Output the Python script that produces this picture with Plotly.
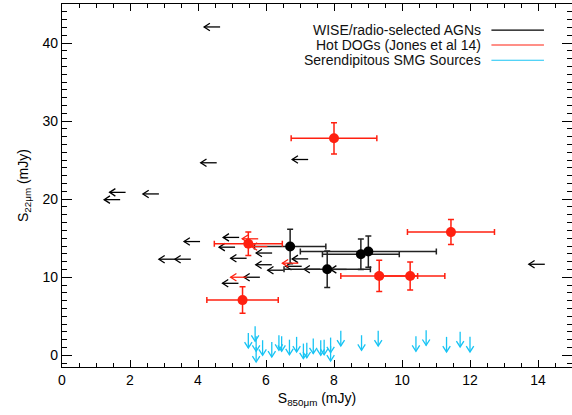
import plotly.graph_objects as go

# ---------------- data ----------------
# WISE/radio-selected AGNs, detections (S850, S22) with errors
agn_x = [6.71, 7.80, 8.79, 9.01]
agn_y = [13.93, 11.02, 12.95, 13.29]
agn_xerr = [1.05, 1.27, 1.13, 2.0]
agn_yerr = [2.2, 2.35, 1.95, 2.0]

# WISE/radio-selected AGNs, S850 upper limits
agn_lim_x = [4.65, 4.55, 7.24, 1.87, 2.85, 1.71, 4.06, 3.32, 3.79, 5.21, 5.09,
             5.43, 6.18, 6.17, 6.52, 5.82, 5.19, 7.24, 7.05, 7.59, 8.37, 14.2]
agn_lim_y = [42.06, 24.66, 25.08, 20.87, 20.67, 19.94, 14.57, 12.31, 12.31, 15.1, 13.85,
             12.43, 13.1, 11.6, 10.9, 10.0, 9.22, 12.35, 11.4, 11.02, 11.0, 11.66]

# Hot DOGs (Jones et al 14), detections
hd_x = [8.0, 11.44, 9.33, 10.24, 5.48, 5.31]
hd_y = [27.8, 15.78, 10.16, 10.16, 14.28, 7.07]
hd_xerr = [1.26, 1.28, 1.13, 1.02, 1.0, 1.05]
hd_yerr = [2.0, 1.6, 2.0, 1.8, 1.5, 1.7]

# Hot DOGs, S850 upper limits
hd_lim_x = [5.43, 6.95, 6.04, 5.77]
hd_lim_y = [10.0, 11.8, 13.93, 14.92]

# Serendipitous SMG sources, S22 upper limits
smg_x = [5.48, 5.68, 5.71, 5.71, 5.90, 6.17, 6.38, 6.46, 6.69, 6.90, 7.10, 7.20, 7.39,
         7.61, 7.71, 7.90, 7.90, 8.20, 8.81, 9.30, 10.41, 10.71, 11.31, 11.71, 12.0]
smg_y = [2.87, 3.73, 2.44, 1.07, 1.93, 1.71, 2.57, 2.44, 2.0, 2.36, 1.5, 1.6, 2.14,
         1.93, 2.0, 2.27, 1.2, 3.13, 2.57, 3.13, 2.44, 3.2, 2.36, 3.0, 2.36]

legend_labels = ["WISE/radio-selected AGNs", "Hot DOGs (Jones et al 14)", "Serendipitous SMG Sources"]

FONT = "Liberation Sans, Arial, sans-serif"
BLACK = "#000000"
RED = "#ff2010"
CYAN = "#18c4f4"


def left_arrows(xs, ys, L=0.47, hx=0.17, hy=0.48):
    px, py = [], []
    for x, y in zip(xs, ys):
        tip = x - L
        px += [x, tip, None, tip + hx, tip, tip + hx, None]
        py += [y, y, None, y + hy, y, y - hy, None]
    return px, py


def down_arrows(xs, ys, L=1.93, hx=0.11, hy=0.75):
    px, py = [], []
    for x, y in zip(xs, ys):
        tip = y - L
        px += [x, x, None, x - hx, x, x + hx, None]
        py += [y, tip, None, tip + hy, tip, tip + hy, None]
    return px, py


fig = go.Figure()

ax, ay = left_arrows(agn_lim_x, agn_lim_y)
fig.add_trace(go.Scatter(x=ax, y=ay, mode="lines", line=dict(color=BLACK, width=1.3),
                         hoverinfo="skip", showlegend=False))

fig.add_trace(go.Scatter(
    x=agn_x, y=agn_y, mode="markers",
    marker=dict(color=BLACK, size=10),
    error_x=dict(type="data", array=agn_xerr, color="#222222", thickness=1.5, width=3),
    error_y=dict(type="data", array=agn_yerr, color="#222222", thickness=1.5, width=3),
    showlegend=False))

rx, ry = left_arrows(hd_lim_x, hd_lim_y)
fig.add_trace(go.Scatter(x=rx, y=ry, mode="lines", line=dict(color=RED, width=1.3),
                         hoverinfo="skip", showlegend=False))

fig.add_trace(go.Scatter(
    x=hd_x, y=hd_y, mode="markers",
    marker=dict(color=RED, size=10),
    error_x=dict(type="data", array=hd_xerr, color=RED, thickness=1.5, width=3),
    error_y=dict(type="data", array=hd_yerr, color=RED, thickness=1.5, width=3),
    showlegend=False))

cx, cy = down_arrows(smg_x, smg_y)
fig.add_trace(go.Scatter(x=cx, y=cy, mode="lines", line=dict(color=CYAN, width=1.3),
                         hoverinfo="skip", showlegend=False))

# manual legend (text on the left, line sample on the right, as in the original)
legend_colors = [BLACK, RED, CYAN]
row_y = [0.928, 0.887, 0.845]
for lab, col, yy in zip(legend_labels, legend_colors, row_y):
    fig.add_annotation(x=0.826, y=yy, xref="paper", yref="paper", text=lab,
                       showarrow=False, xanchor="right", yanchor="middle",
                       font=dict(size=14, color="#111111", family=FONT))
    fig.add_shape(type="line", xref="paper", yref="paper", x0=0.842, x1=0.945,
                  y0=yy, y1=yy, line=dict(color=col, width=1.2))

fig.update_xaxes(
    range=[0, 15], tick0=0, dtick=2,
    ticks="inside", ticklen=7, tickwidth=1.3, tickcolor="black",
    minor=dict(ticks="inside", dtick=0.5, ticklen=4, tickwidth=1.1, tickcolor="black"),
    showgrid=False, zeroline=False, showline=True, linecolor="black", linewidth=1.2,
    mirror="ticks", automargin=False,
    tickfont=dict(size=14, color="black", family=FONT),
    title=dict(text="S<sub>850μm</sub> (mJy)", font=dict(size=14, color="black", family=FONT), standoff=6),
)
fig.update_yaxes(
    range=[-1.5, 45], tick0=0, dtick=10,
    ticks="inside", ticklen=10, tickwidth=1.3, tickcolor="black",
    minor=dict(ticks="inside", dtick=1, ticklen=5, tickwidth=1.1, tickcolor="black"),
    showgrid=False, zeroline=False, showline=True, linecolor="black", linewidth=1.2,
    mirror="ticks", automargin=False,
    tickfont=dict(size=14, color="black", family=FONT),
    title=dict(text="S<sub>22μm</sub> (mJy)", font=dict(size=14, color="black", family=FONT), standoff=10),
)

fig.update_layout(
    template="none",
    width=572, height=415,
    margin=dict(l=62, r=0, t=4, b=48),
    plot_bgcolor="white", paper_bgcolor="white",
    font=dict(family=FONT, size=14, color="black"),
    showlegend=False,
)

fig.write_html("out.html", config={"displayModeBar": False},
               post_script="document.body.style.margin='0';")
